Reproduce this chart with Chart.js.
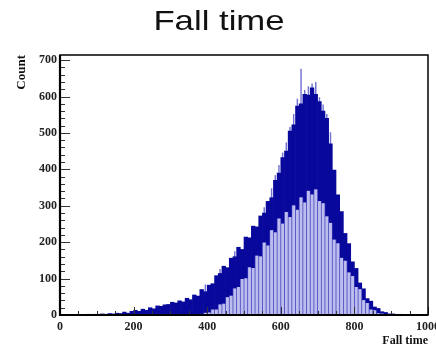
<!DOCTYPE html>
<html lang="en">
<head>
    <meta charset="UTF-8">
    <title>Fall time</title>
    <script src="https://cdn.jsdelivr.net/npm/chart.js"></script>
    <style>
        html, body { margin: 0; padding: 0; background: #fff; }
        #wrap { width: 436px; height: 361px; }
    </style>
</head>
<body>
    <div id="wrap"><canvas id="fallChart" width="436" height="361"></canvas></div>

    <script>
        // Histogram binning: 100 bins of width 10 from 0 to 1000
        const binStart = 0;
        const binWidth = 10;
        const xTicks = [0, 200, 400, 600, 800, 1000];
        const yTicks = [0, 100, 200, 300, 400, 500, 600, 700];

        // Upper edge of the dense (dark) band, per bin
        const bandTop = [
            0, 0, 1, 0, 1, 1, 0, 2, 1, 2,
            2, 3, 2, 4, 3, 5, 4, 8, 5, 10,
            13, 10, 16, 13, 20, 17, 25, 24, 28, 29,
            35, 33, 39, 36, 46, 42, 55, 52, 70, 64,
            82, 86, 108, 114, 134, 130, 156, 160, 186, 180,
            214, 212, 244, 242, 272, 280, 312, 322, 370, 390,
            432, 450, 505, 522, 574, 580, 606, 604, 624, 606,
            586, 560, 540, 470, 398, 330, 284, 224, 196, 146,
            128, 88, 72, 45, 38, 22, 18, 9, 7, 3,
            3, 1, 2, 0, 1, 1, 0, 0, 0, 0
        ];

        // Lower edge of the dark band (top of the light filled bars)
        const fillTop = [
            0, 0, 0, 0, 0, 0, 0, 0, 0, 0,
            0, 0, 0, 0, 0, 0, 0, 0, 0, 0,
            0, 0, 0, 0, 0, 0, 0, 0, 0, 0,
            0, 0, 0, 0, 0, 0, 0, 0, 2, 5,
            6, 14, 14, 28, 30, 48, 52, 72, 76, 98,
            100, 130, 128, 162, 160, 198, 190, 232, 226, 264,
            250, 282, 268, 300, 288, 322, 308, 340, 330, 344,
            312, 306, 270, 252, 206, 196, 156, 148, 116, 106,
            76, 70, 40, 32, 14, 12, 4, 3, 0, 0,
            0, 0, 0, 0, 0, 0, 0, 0, 0, 0
        ];

        // Single-bin spikes sticking out above the band
        const spikeTop = [
            0, 0, 0, 0, 0, 0, 0, 0, 0, 0,
            0, 0, 0, 0, 0, 0, 0, 0, 0, 0,
            0, 0, 0, 0, 0, 0, 0, 0, 0, 0,
            0, 0, 0, 0, 0, 0, 0, 0, 0, 84,
            0, 0, 0, 126, 0, 0, 0, 175, 0, 0,
            0, 0, 0, 0, 0, 296, 0, 348, 384, 412,
            446, 474, 516, 552, 594, 676, 618, 628, 636, 640,
            598, 578, 552, 502, 0, 0, 0, 0, 0, 0,
            0, 0, 0, 0, 0, 0, 0, 0, 0, 0,
            0, 0, 0, 0, 0, 0, 0, 0, 0, 0
        ];

        const binCenters = bandTop.map((_, i) => binStart + binWidth * (i + 0.5));
        const toPoints = arr => arr.map((v, i) => ({ x: binCenters[i], y: v }));

        const serifBold = { family: '"Liberation Serif", "DejaVu Serif", serif', weight: 'bold' };

        // ROOT-like frame with inward ticks, plus the stretched pad title
        const framePlugin = {
            id: 'frame',
            afterDraw(chart) {
                const { ctx, chartArea: a, scales: { x, y } } = chart;
                ctx.save();
                ctx.strokeStyle = '#333';
                ctx.lineWidth = 1;
                for (let v = 0; v <= 700; v += 20) {
                    const py = Math.round(y.getPixelForValue(v)) + 0.5;
                    const len = v % 100 === 0 ? 10 : 5;
                    ctx.beginPath();
                    ctx.moveTo(a.left, py);
                    ctx.lineTo(a.left + len, py);
                    ctx.stroke();
                }
                for (let v = 0; v <= 1000; v += 50) {
                    const px = Math.round(x.getPixelForValue(v)) + 0.5;
                    const len = v % 200 === 0 ? 8 : 4;
                    ctx.beginPath();
                    ctx.moveTo(px, a.bottom);
                    ctx.lineTo(px, a.bottom - len);
                    ctx.stroke();
                }
                ctx.strokeStyle = '#000';
                ctx.lineWidth = 1.5;
                ctx.strokeRect(a.left, a.top, a.right - a.left, a.bottom - a.top);
                ctx.lineWidth = 2.2;
                ctx.beginPath();
                ctx.moveTo(a.left, a.top);
                ctx.lineTo(a.left, a.bottom);
                ctx.lineTo(a.right, a.bottom);
                ctx.stroke();

                // title
                ctx.fillStyle = '#111';
                ctx.font = '28px "Liberation Sans", Arial, sans-serif';
                ctx.textAlign = 'center';
                ctx.textBaseline = 'middle';
                ctx.translate(chart.width / 2 + 1, 22);
                ctx.scale(1.24, 1);
                ctx.fillText('Fall time', 0, 0);
                ctx.restore();
            }
        };

        const fallChart = new Chart(document.getElementById('fallChart'), {
            type: 'bar',
            data: {
                datasets: [
                    {   // light fill of each bin
                        data: toPoints(fillTop),
                        backgroundColor: '#bcbcee',
                        barThickness: 2.3,
                        order: 0
                    },
                    {   // bin edges showing between the light fills
                        data: toPoints(fillTop),
                        backgroundColor: '#3c3cba',
                        barPercentage: 1,
                        order: 1
                    },
                    {   // dense dark band
                        data: toPoints(bandTop),
                        backgroundColor: '#08089c',
                        barPercentage: 1,
                        order: 2
                    },
                    {   // thin spikes above the band
                        data: toPoints(spikeTop),
                        backgroundColor: '#7474d4',
                        barPercentage: 0.4,
                        order: 3
                    }
                ]
            },
            options: {
                responsive: false,
                animation: false,
                events: [],
                layout: { padding: { top: 55, right: 8, left: 0, bottom: 0 } },
                datasets: {
                    bar: { grouped: false, categoryPercentage: 1, borderWidth: 0 }
                },
                plugins: {
                    legend: { display: false },
                    tooltip: { enabled: false },
                    title: { display: false }
                },
                scales: {
                    x: {
                        type: 'linear',
                        min: 0,
                        max: 1000,
                        offset: false,
                        grid: { display: false, drawTicks: false },
                        border: { display: false },
                        afterBuildTicks: s => { s.ticks = xTicks.map(v => ({ value: v })); },
                        ticks: {
                            autoSkip: false,
                            maxRotation: 0,
                            padding: 5,
                            color: '#222',
                            font: { ...serifBold, size: 12 },
                            callback: v => String(v)
                        },
                        title: {
                            display: true,
                            text: 'Fall time',
                            align: 'end',
                            color: '#111',
                            padding: { top: 0, bottom: 13 },
                            font: { ...serifBold, size: 12 }
                        },
                        afterFit: s => { s.height = 46; s.paddingLeft = 0; s.paddingRight = 0; }
                    },
                    y: {
                        min: 0,
                        max: 714,
                        grid: { display: false, drawTicks: false },
                        border: { display: false },
                        afterBuildTicks: s => { s.ticks = yTicks.map(v => ({ value: v })); },
                        ticks: {
                            autoSkip: false,
                            padding: 3,
                            color: '#222',
                            font: { ...serifBold, size: 12 },
                            callback: v => String(v)
                        },
                        title: {
                            display: true,
                            text: 'Count',
                            align: 'end',
                            color: '#111',
                            padding: { top: 14, bottom: 0 },
                            font: { ...serifBold, size: 13 }
                        },
                        afterFit: s => { s.width = 60; s.paddingTop = 0; s.paddingBottom = 0; }
                    }
                }
            },
            plugins: [framePlugin]
        });
    </script>
</body>
</html>
